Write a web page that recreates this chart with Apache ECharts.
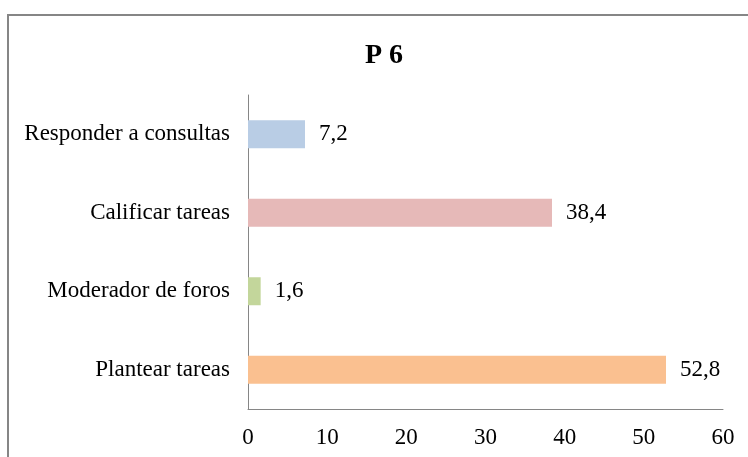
<!DOCTYPE html>
<html>
<head>
<meta charset="utf-8">
<script src="https://cdn.jsdelivr.net/npm/echarts@6/dist/echarts.min.js"></script>
<style>
  html, body { margin: 0; padding: 0; background: #fff; }
  #chart { width: 748px; height: 457px; }
</style>
</head>
<body>
<div id="chart"></div>
<script>
  // datos de la gráfica
  const categorias = ['Plantear tareas', 'Moderador de foros', 'Calificar tareas', 'Responder a consultas']
  const valores = [52.8, 1.6, 38.4, 7.2]
  const colores = ['#FAC090', '#C3D69B', '#E6B9B8', '#B9CDE5']
  const ticks = [0, 10, 20, 30, 40, 50, 60]

  const fuente = '"Liberation Serif", "DejaVu Serif", serif'
  const myChart = echarts.init(document.getElementById('chart'))
  myChart.setOption({
    animation: false,
    title: {
      text: 'P 6',
      left: 379,
      top: 37,
      textAlign: 'center',
      textStyle: { fontFamily: fuente, fontWeight: 'bold', fontSize: 28, color: '#000' }
    },
    graphic: [{
      type: 'rect',
      shape: { x: 8, y: 15, width: 760, height: 460 },
      style: { fill: 'none', stroke: '#868686', lineWidth: 2 }
    }],
    grid: { left: 248, right: 25, top: 95, bottom: 48 },
    xAxis: {
      type: 'value',
      min: ticks[0],
      max: ticks[ticks.length - 1],
      interval: 10,
      splitLine: { show: false },
      axisLine: { show: true, lineStyle: { color: '#868686', width: 1 } },
      axisTick: { show: false },
      axisLabel: { fontFamily: fuente, fontSize: 23, color: '#000', margin: 17 }
    },
    yAxis: {
      type: 'category',
      data: categorias,
      axisLine: { lineStyle: { color: '#868686', width: 1 } },
      axisTick: { show: false },
      axisLabel: { fontFamily: fuente, fontSize: 23, color: '#000', margin: 18 }
    },
    series: [{
      type: 'bar',
      barWidth: 28,
      data: valores.map((v, i) => ({ value: v, itemStyle: { color: colores[i] } })),
      label: {
        show: true,
        position: 'right',
        distance: 14,
        fontFamily: fuente,
        fontSize: 23,
        color: '#000',
        formatter: p => String(p.value).replace('.', ',')
      }
    }]
  })
</script>
</body>
</html>
